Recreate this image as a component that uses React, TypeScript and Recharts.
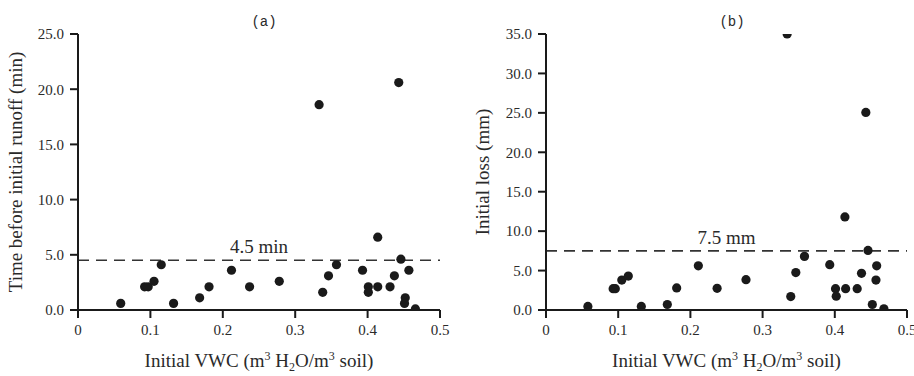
import { ScatterChart, Scatter, XAxis, YAxis, ReferenceLine, Label } from 'recharts';

const vwcA = [0.059, 0.092, 0.097, 0.105, 0.115, 0.132, 0.168, 0.181, 0.212, 0.237, 0.278, 0.333, 0.338, 0.346, 0.357, 0.393, 0.401, 0.401, 0.414, 0.414, 0.431, 0.437, 0.443, 0.446, 0.457, 0.452, 0.451, 0.466];
const timeA = [0.6, 2.1, 2.1, 2.6, 4.1, 0.6, 1.1, 2.1, 3.6, 2.1, 2.6, 18.6, 1.6, 3.1, 4.1, 3.6, 2.1, 1.6, 2.1, 6.6, 2.1, 3.1, 20.6, 4.6, 3.6, 1.1, 0.6, 0.1];

const vwcB = [0.058, 0.093, 0.096, 0.105, 0.114, 0.132, 0.168, 0.181, 0.211, 0.237, 0.277, 0.334, 0.339, 0.346, 0.358, 0.393, 0.401, 0.402, 0.415, 0.414, 0.431, 0.437, 0.443, 0.446, 0.458, 0.457, 0.452, 0.468];
const lossB = [0.45, 2.7, 2.7, 3.8, 4.3, 0.45, 0.7, 2.8, 5.6, 2.75, 3.85, 35.0, 1.7, 4.75, 6.8, 5.75, 2.7, 1.75, 2.7, 11.8, 2.7, 4.65, 25.05, 7.55, 5.6, 3.8, 0.7, 0.15];

const xTicks = [0, 0.1, 0.2, 0.3, 0.4, 0.5];
const yTicksA = [0, 5, 10, 15, 20, 25];
const yTicksB = [0, 5, 10, 15, 20, 25, 30, 35];

const serif = '"Liberation Serif", "Times New Roman", serif';
const mono = '"Liberation Mono", "DejaVu Sans Mono", monospace';
const ink = '#1a1a1a';
const textInk = '#2a2a2a';

const dataA = vwcA.map((x, i) => ({ x, y: timeA[i] }));
const dataB = vwcB.map((x, i) => ({ x, y: lossB[i] }));

const dot = (props: any) => <circle cx={props.cx} cy={props.cy} r={4.6} fill={ink} />;

const tickStyle = { fontFamily: serif, fontSize: 15, fill: textInk };

function XLabel({ viewBox }: any) {
  const cx = viewBox.x + viewBox.width / 2;
  const y = viewBox.y + 57;
  return (
    <text x={cx} y={y} textAnchor="middle" fontFamily={serif} fontSize={19} fill={textInk}>
      Initial VWC (m
      <tspan dy={-7} fontSize={12}>3</tspan>
      <tspan dy={7}> H</tspan>
      <tspan dy={4} fontSize={12}>2</tspan>
      <tspan dy={-4}>O/m</tspan>
      <tspan dy={-7} fontSize={12}>3</tspan>
      <tspan dy={7}> soil)</tspan>
    </text>
  );
}

function yLabel(text: string, bx: number) {
  return ({ viewBox }: any) => {
    const cy = viewBox.y + viewBox.height / 2;
    return (
      <text x={bx} y={cy} transform={`rotate(-90, ${bx}, ${cy})`} textAnchor="middle" fontFamily={serif} fontSize={19} fill={textInk}>
        {text}
      </text>
    );
  };
}

const fmtX = (v: number) => (v === 0 ? '0' : v.toFixed(1));
const fmtY = (v: number) => v.toFixed(1);

function Panel({ data, yTicks, yMax, refY, refText, yText, yw, width, right, labelX }: any) {
  return (
    <ScatterChart width={width} height={376} margin={{ top: 34, right, bottom: 0, left: 0 }}>
      <XAxis
        type="number"
        dataKey="x"
        domain={[0, 0.5]}
        ticks={xTicks}
        tickFormatter={fmtX}
        height={66}
        tick={tickStyle}
        tickSize={8}
        tickMargin={6}
        axisLine={{ stroke: ink, strokeWidth: 2 }}
        tickLine={{ stroke: ink, strokeWidth: 2 }}
        interval={0}
        allowDataOverflow
      >
        <Label content={<XLabel />} />
      </XAxis>
      <YAxis
        type="number"
        dataKey="y"
        domain={[0, yMax]}
        ticks={yTicks}
        tickFormatter={fmtY}
        width={yw}
        tick={tickStyle}
        tickSize={8}
        tickMargin={6}
        axisLine={{ stroke: ink, strokeWidth: 2 }}
        tickLine={{ stroke: ink, strokeWidth: 2 }}
        interval={0}
        allowDataOverflow
      >
        <Label content={yLabel(yText, labelX)} />
      </YAxis>
      <ReferenceLine
        y={refY}
        stroke="#333"
        strokeWidth={1.6}
        strokeDasharray="11 7"
        label={{ value: refText, position: 'top', fontFamily: serif, fontSize: 19, fill: textInk, offset: 7 }}
      />
      <Scatter data={data} shape={dot} isAnimationActive={false} />
    </ScatterChart>
  );
}

export default function App() {
  return (
    <div style={{ position: 'absolute', left: 0, top: 0, width: 914, height: 376, background: '#fff', overflow: 'hidden' }}>
      <div style={{ position: 'absolute', left: 0, top: 0 }}>
        <Panel data={dataA} yTicks={yTicksA} yMax={25} refY={4.5} refText="4.5 min" yText="Time before initial runoff (min)" yw={78} width={460} right={20} labelX={22} />
      </div>
      <div style={{ position: 'absolute', left: 460, top: 0 }}>
        <Panel data={dataB} yTicks={yTicksB} yMax={35} refY={7.5} refText="7.5 mm" yText="Initial loss (mm)" yw={86} width={454} right={7} labelX={29} />
      </div>
      <div style={{ position: 'absolute', left: 234, top: 15, width: 60, textAlign: 'center', fontFamily: mono, fontSize: 14, lineHeight: '14px', color: textInk }}>(a)</div>
      <div style={{ position: 'absolute', left: 702, top: 15, width: 60, textAlign: 'center', fontFamily: mono, fontSize: 14, lineHeight: '14px', color: textInk }}>(b)</div>
    </div>
  );
}
